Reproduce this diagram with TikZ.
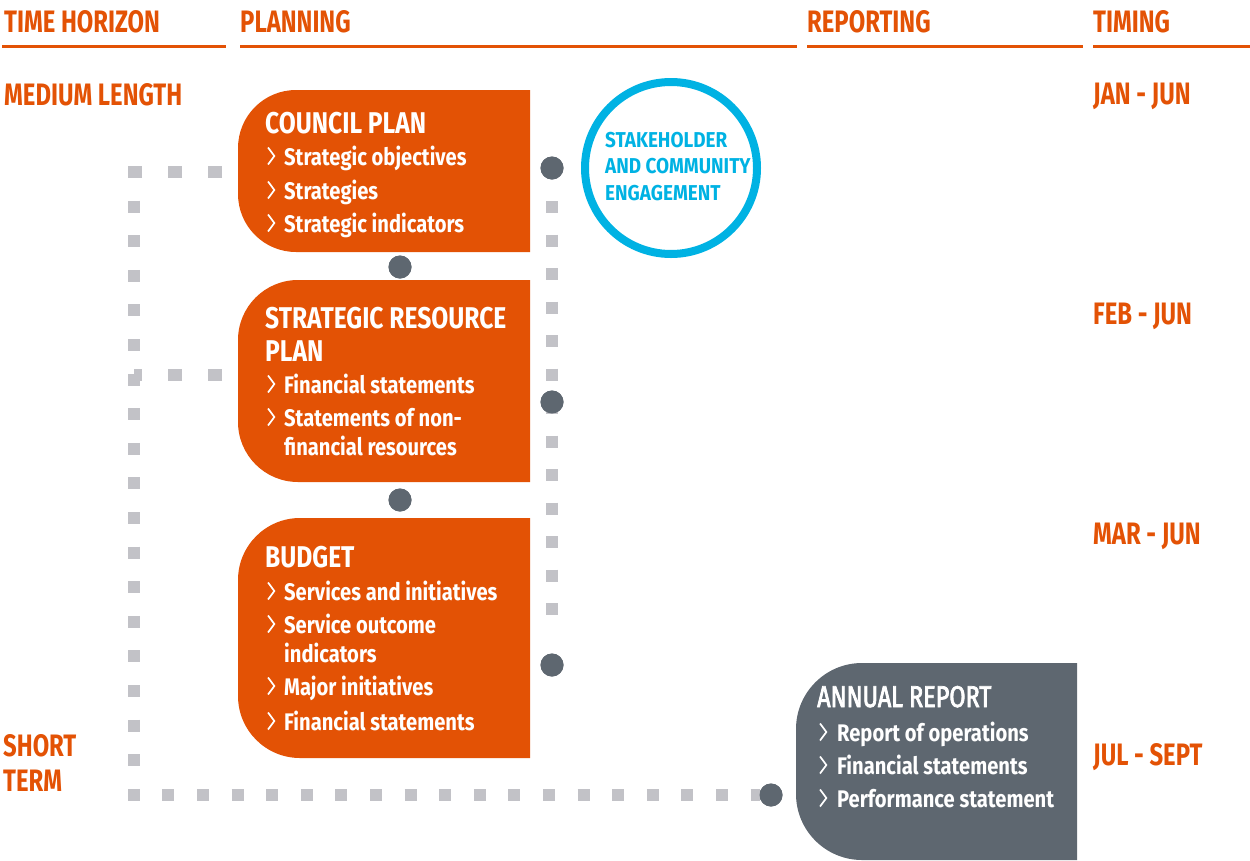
\documentclass[tikz,border=0pt]{standalone}
\usepackage{fontspec}
\usepackage{graphicx}
\setmainfont[FakeStretch=0.77]{Fira Sans}
\newfontfamily\ttlf[FakeStretch=0.82]{Fira Sans}
\newfontfamily\itmf[FakeStretch=0.84]{Fira Sans}
\newfontfamily\engf[FakeStretch=0.88]{Fira Sans}
\newfontfamily\medf[FakeStretch=0.78,FakeBold=2.5]{Fira Sans}
\definecolor{org}{HTML}{E35205}
\definecolor{slate}{HTML}{5E6770}
\definecolor{sky}{HTML}{00B2E3}
\definecolor{dotgray}{HTML}{C2C2C7}
\newcommand{\chev}{\tikz[x=1pt,y=1pt,baseline=0pt]\draw[white,line width=1.7pt,line cap=butt,line join=miter] (0.5,0.5) -- (6.8,9) -- (0.5,17.5);}
\newcommand{\lbox}[6]{\fill[#1] (#4,#3) -- ({#2+#6},#3) .. controls ({#2+0.448*#6},#3) and (#2,{#3+0.448*#6}) .. (#2,{#3+#6}) -- (#2,{#5-#6}) .. controls (#2,{#5-0.448*#6}) and ({#2+0.448*#6},#5) .. ({#2+#6},#5) -- (#4,#5) -- cycle;}
\begin{document}
\begin{tikzpicture}[x=1pt,y=-1pt,
 hdr/.style={anchor=base west, inner sep=0pt, text=org, font=\bfseries\fontsize{31}{31}\selectfont},
 ttl/.style={anchor=base west, inner sep=0pt, text=white, font=\ttlf\bfseries\fontsize{30}{30}\selectfont},
 itm/.style={anchor=base west, inner sep=0pt, text=white, font=\itmf\bfseries\fontsize{24}{24}\selectfont},
 eng/.style={anchor=base west, inner sep=0pt, text=sky, font=\engf\bfseries\fontsize{21.5}{21.5}\selectfont},
 rulel/.style={org, line width=3pt},
 dotline/.style={dotgray, line width=12pt, line cap=butt},
 jdot/.style={circle, fill=slate, minimum size=23pt, inner sep=0pt, outer sep=0pt},
]
\useasboundingbox (0,0) rectangle (1250,860);

% header rules
\draw[rulel] (2,46) -- (226,46);
\draw[rulel] (240,46) -- (797,46);
\draw[rulel] (807,46) -- (1083,46);
\draw[rulel] (1093,46) -- (1250,46);

% headers
\node[hdr] (hTime) at (4,32) {TIME HORIZON};
\node[hdr] (hPlan) at (240,32) {PLANNING};
\node[hdr] (hRep) at (807,32) {REPORTING};
\node[hdr] (hTiming) at (1093,32) {TIMING};

% left labels
\node[hdr] (med) at (4,105) {MEDIUM LENGTH};
\node[hdr] (sh1) at (3,756) {SHORT};
\node[hdr] (sh2) at (3,791) {TERM};

% timing labels
\node[hdr] (t1) at (1093,104) {JAN - JUN};
\node[hdr] (t2) at (1093,324) {FEB - JUN};
\node[hdr] (t3) at (1093,544) {MAR - JUN};
\node[hdr] (t4) at (1093,765) {JUL - SEPT};

% junction dots
\node[jdot] (d1) at (552,168) {};
\node[jdot] (d2) at (400,267) {};
\node[jdot] (d3) at (552,402) {};
\node[jdot] (d4) at (400,500) {};
\node[jdot] (d5) at (552,665) {};
\node[jdot] (d6) at (771,795) {};

% coordinates for the left loop
\coordinate (cpL) at (222,172);
\coordinate (tlc) at (134,172);
\coordinate (tl) at (134,166);
\coordinate (srpL) at (222,375);
\coordinate (mid) at (134,375);
\coordinate (bl) at (134,795);

% dotted connectors
\draw[dotline, dash pattern=on 14pt off 26pt] (cpL) -- (tlc);
\draw[dotline, dash pattern=on 14pt off 26pt] (srpL) -- (mid);
\draw[dotline, dash pattern=on 12pt off 22.6pt] (tl) -- (bl) -- (d6);
\draw[dotline, dash pattern=on 12pt off 21.5pt, dash phase=12pt, shorten >=36pt] (d1) -- (d5);

% boxes
\lbox{org}{238}{90}{530}{252}{58}
\lbox{org}{238}{280}{530}{482}{60}
\lbox{org}{238}{518}{530}{758}{62}
\lbox{slate}{796}{663}{1077}{860}{66}

% dots on top
\fill[slate] (d1) circle[radius=11.5pt];
\fill[slate] (d2) circle[radius=11.5pt];
\fill[slate] (d3) circle[radius=11.5pt];
\fill[slate] (d4) circle[radius=11.5pt];
\fill[slate] (d5) circle[radius=11.5pt];
\fill[slate] (d6) circle[radius=11.5pt];

% engagement circle
\node[circle, draw=sky, line width=8pt, minimum size=172pt, inner sep=0pt] (engc) at (671,168) {};
\node[eng] (e1) at (605,147) {STAKEHOLDER};
\node[eng] (e2) at (605,173) {AND COMMUNITY};
\node[eng] (e3) at (605,200) {ENGAGEMENT};

% council plan
\node[ttl] (cpT) at (265,133) {COUNCIL PLAN};
\node[itm] (cp1) at (267,165) {\makebox[17pt][l]{\chev}Strategic objectives};
\node[itm] (cp2) at (267,199) {\makebox[17pt][l]{\chev}Strategies};
\node[itm] (cp3) at (267,232) {\makebox[17pt][l]{\chev}Strategic indicators};

% strategic resource plan
\node[ttl] (srT1) at (265,328) {STRATEGIC RESOURCE};
\node[ttl] (srT2) at (265,361) {PLAN};
\node[itm] (sr1) at (267,393) {\makebox[17pt][l]{\chev}Financial statements};
\node[itm] (sr2) at (267,426) {\makebox[17pt][l]{\chev}Statements of non-};
\node[itm] (sr3) at (284,455) {financial resources};

% budget
\node[ttl] (bT) at (265,567) {BUDGET};
\node[itm] (b1) at (267,600) {\makebox[17pt][l]{\chev}Services and initiatives};
\node[itm] (b2) at (267,633) {\makebox[17pt][l]{\chev}Service outcome};
\node[itm] (b3) at (284,662) {indicators};
\node[itm] (b4) at (267,695) {\makebox[17pt][l]{\chev}Major initiatives};
\node[itm] (b5) at (267,730) {\makebox[17pt][l]{\chev}Financial statements};

% annual report
\node[ttl, font=\medf\fontsize{30}{30}\selectfont] (arT) at (817,707) {ANNUAL REPORT};
\node[itm] (ar1) at (819,741) {\makebox[18pt][l]{\chev}Report of operations};
\node[itm] (ar2) at (819,774) {\makebox[18pt][l]{\chev}Financial statements};
\node[itm] (ar3) at (819,807) {\makebox[18pt][l]{\chev}Performance statement};
\end{tikzpicture}
\end{document}
